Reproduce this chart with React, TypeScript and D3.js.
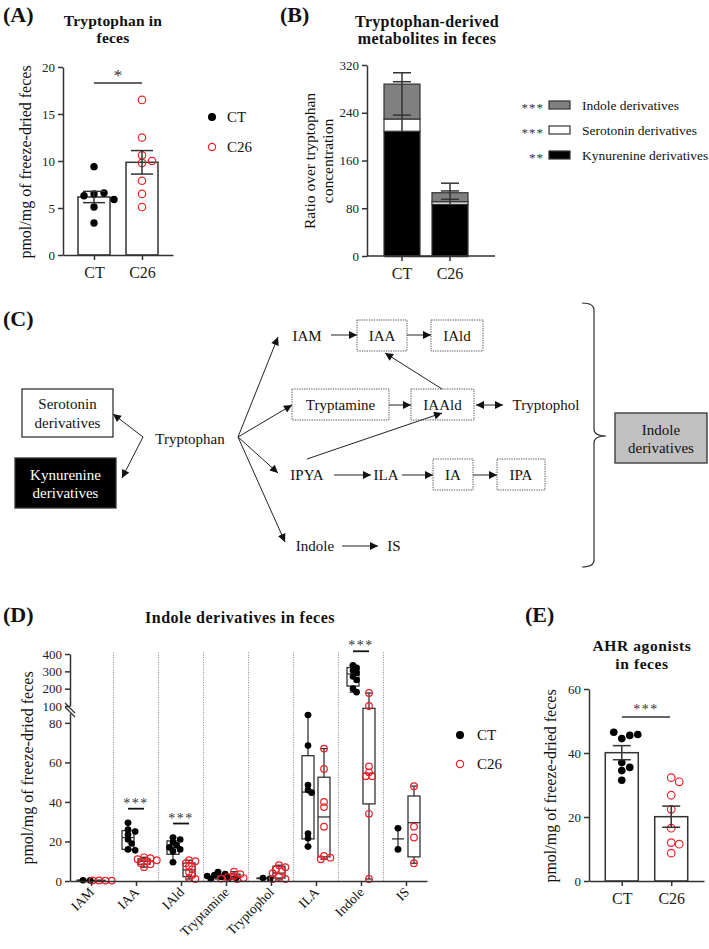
import React, { useEffect, useRef } from 'react';
import * as d3 from 'd3';

const FONT = 'Liberation Serif';
const RED = '#ee2028';
const AX = '#333';

// ---------- Panel A: Tryptophan in feces ----------
const groups = ['CT', 'C26'];
const trpCT = [9.4, 6.5, 6.6, 6.3, 5.9, 5.1, 3.4];
const trpC26 = [16.5, 12.5, 10.6, 10.0, 9.8, 7.9, 6.5, 5.1];
const trpMean = [6.17, 9.86];
const trpSem = [0.6, 1.25];
const aTicks = [0, 5, 10, 15, 20];

// ---------- Panel B: stacked metabolites ----------
const kynVals = [209, 86.5];
const seroVals = [20.5, 4.5];
const indVals = [58.5, 15];
const kynSem = [27, 8.5];
const seroSem = [4, 3];
const indSem = [19, 16];
const bTicks = [0, 80, 160, 240, 320];
const bLegend = ['Indole derivatives', 'Serotonin derivatives', 'Kynurenine derivatives'];
const bLegendStars = ['***', '***', '**'];
const bLegendFill = ['#808080', '#ffffff', '#000000'];

// ---------- Panel D: Indole derivatives (box plots) ----------
const dCats = ['IAM', 'IAA', 'IAld', 'Tryptamine', 'Tryptophol', 'ILA', 'Indole', 'IS'];
const dPtsCT = [
  [0.4, 0.3],
  [29.5, 26, 25, 23.5, 21, 19, 16, 15.5],
  [22, 21, 19.5, 18, 17, 16, 15, 9.5],
  [4.5, 3.5, 3, 2.5, 2, 1.5, 1.5, 1],
  [1.5, 1.2],
  [84, 68.5, 48.6, 46, 44.7, 24, 21.6, 17.4],
  [335, 320, 305, 290, 270, 250, 200, 180],
  [26.7, 16],
];
const dPtsC26 = [
  [0.3, 0.2, 0.3, 0.2],
  [12, 11.5, 11, 10.5, 10, 9, 8.5, 7],
  [10.5, 10, 9, 7.5, 6, 4.5, 3, 1.5, 1],
  [4.7, 3.5, 2.5, 2, 1.5, 1.2, 1],
  [8, 7, 6, 5, 4, 2, 1, 1],
  [67, 56.7, 40, 37.4, 27.5, 12.7, 11.8, 11],
  [175, 100, 58, 55, 53, 53, 34, 1],
  [48, 27.5, 22, 9],
];
// [min, q1, median, q3, max]
const dBoxCT = [
  [0.3, 0.3, 0.35, 0.4, 0.4],
  [15.5, 16, 22, 25.5, 29.5],
  [9.5, 13.5, 17, 20.3, 22],
  [1, 1.5, 2, 3, 4.5],
  [1.2, 1.2, 1.35, 1.5, 1.5],
  [17.4, 21.3, 45, 63.4, 84],
  [180, 215, 285, 322, 335],
  [16, 21.3, 21.3, 21.3, 26.7],
];
const dBoxC26 = [
  [0.2, 0.2, 0.25, 0.3, 0.3],
  [7, 8.5, 10, 11.2, 12],
  [1, 2.2, 5.6, 9.1, 10.5],
  [1, 1.3, 2.2, 3.5, 4.7],
  [1, 1.5, 4, 7.5, 8],
  [11, 12.2, 32.4, 52.5, 67],
  [1, 39, 54.5, 95, 175],
  [9, 12.2, 29.5, 43, 48],
];
const dSig = ['IAA', 'IAld', 'Indole'];
const dLowTicks = [0, 20, 40, 60, 80];
const dHighTicks = [100, 200, 300, 400];

// ---------- Panel E: AHR agonists ----------
const ahrCT = [44.5, 45.5, 46.5, 45.8, 37, 35.5, 34.5, 31.5];
const ahrC26 = [32.3, 31, 26.8, 22.4, 16.5, 12, 11.5, 8.7];
const ahrMean = [40.1, 20.1];
const ahrSem = [2.2, 3.3];
const eTicks = [0, 20, 40, 60];

// simple beeswarm layout
function swarm(vals: number[], y: (v: number) => number, cx: number, minDist: number, step: number) {
  const placed: { x: number; y: number }[] = [];
  return vals.map((v) => {
    const py = y(v);
    let k = 0;
    for (;;) {
      const off = k === 0 ? 0 : (k % 2 === 1 ? 1 : -1) * Math.ceil(k / 2);
      const px = cx + off * step;
      const hit = placed.some((p) => Math.hypot(p.x - px, p.y - py) < minDist);
      if (!hit || k > 12) {
        placed.push({ x: px, y: py });
        return { x: px, y: py };
      }
      k++;
    }
  });
}

function Axis({ axis, transform, fontSize = 13 }: any) {
  const ref = useRef<SVGGElement>(null);
  useEffect(() => {
    const g = d3.select(ref.current!);
    g.call(axis);
    g.attr('font-family', FONT).attr('font-size', fontSize);
    g.select('.domain').attr('stroke', AX).attr('stroke-width', 1.5);
    g.selectAll('.tick line').attr('stroke', AX).attr('stroke-width', 1.5);
    g.selectAll('.tick text').attr('fill', '#222');
  });
  return <g ref={ref} transform={transform} />;
}

function Dots({ pts, red, r }: any) {
  return (
    <g>
      {pts.map((p: any, i: number) =>
        red ? (
          <circle key={i} cx={p.x} cy={p.y} r={r} fill="none" stroke={RED} strokeWidth={1.2} />
        ) : (
          <circle key={i} cx={p.x} cy={p.y} r={r} fill="#000" />
        )
      )}
    </g>
  );
}

function ErrBar({ x, y1, y2, w }: any) {
  return (
    <g stroke={AX} strokeWidth={1.5}>
      <line x1={x} x2={x} y1={y1} y2={y2} />
      <line x1={x - w / 2} x2={x + w / 2} y1={y1} y2={y1} />
      <line x1={x - w / 2} x2={x + w / 2} y1={y2} y2={y2} />
    </g>
  );
}

function T({ x, y, size = 15, bold = false, anchor = 'start', fill = '#111', transform, spacing, children }: any) {
  return (
    <text x={x} y={y} transform={transform} textAnchor={anchor} fontFamily={FONT} fontSize={size}
      fontWeight={bold ? 'bold' : 'normal'} fill={fill} letterSpacing={spacing}>
      {children}
    </text>
  );
}

function PanelA() {
  const xA = d3.scalePoint<string>().domain(groups).range([63, 173]).padding(0.646);
  const yA = d3.scaleLinear().domain([0, 20]).range([255, 67]);
  const bw = 32;
  const ptsCT = swarm(trpCT, yA, xA('CT')!, 7.4, 10);
  const ptsC26 = swarm(trpC26, yA, xA('C26')!, 7.4, 10);
  return (
    <g>
      <T x={3} y={22} size={22} bold>(A)</T>
      <T x={113} y={26} anchor="middle" bold size={15.5} spacing={0.2}>Tryptophan in</T>
      <T x={113} y={43} anchor="middle" bold size={15.5} spacing={0.2}>feces</T>
      <T transform="translate(31,162) rotate(-90)" anchor="middle" size={16}>pmol/mg of freeze-dried feces</T>
      {groups.map((g, i) => (
        <rect key={g} x={xA(g)! - bw / 2} width={bw} y={yA(trpMean[i])} height={yA(0) - yA(trpMean[i])} fill="#fff" stroke={AX} strokeWidth={1.5} />
      ))}
      <Dots pts={ptsCT} r={3.7} />
      <Dots pts={ptsC26} r={3.7} red />
      {groups.map((g, i) => (
        <ErrBar key={g} x={xA(g)!} y1={yA(trpMean[i] + trpSem[i])} y2={yA(trpMean[i] - trpSem[i])} w={22} />
      ))}
      <Axis axis={d3.axisLeft(yA).tickValues(aTicks).tickSize(5).tickSizeOuter(0).tickPadding(3)} transform="translate(63,0)" />
      <Axis axis={d3.axisBottom(xA).tickSize(5).tickSizeOuter(0).tickPadding(7)} transform="translate(0,255)" fontSize={16} />
      <line x1={xA('CT')} x2={xA('C26')} y1={yA(18.3)} y2={yA(18.3)} stroke={AX} strokeWidth={1.3} />
      <T x={(xA('CT')! + xA('C26')!) / 2} y={yA(18.3) - 2} anchor="middle" size={17} fill="#333">*</T>
      <circle cx={212} cy={117} r={4} fill="#000" />
      <T x={227} y={122}>CT</T>
      <circle cx={212} cy={147} r={3.6} fill="none" stroke={RED} strokeWidth={1.2} />
      <T x={227} y={152}>C26</T>
    </g>
  );
}

function PanelB() {
  const xB = d3.scaleBand<string>().domain(groups).range([384, 468]).paddingInner(0.25);
  const yB = d3.scaleLinear().domain([0, 320]).range([256, 65]);
  const bw = xB.bandwidth();
  const stacks = groups.map((g, i) => {
    const k = kynVals[i];
    const s = k + seroVals[i];
    const t = s + indVals[i];
    return { g, k, s, t, i };
  });
  return (
    <g>
      <T x={280} y={22} size={22} bold>(B)</T>
      <T x={427} y={27} anchor="middle" bold size={16} spacing={0.3}>Tryptophan-derived</T>
      <T x={427} y={44} anchor="middle" bold size={16} spacing={0.3}>metabolites in feces</T>
      <T transform="translate(315,161) rotate(-90)" anchor="middle" size={15.5}>Ratio over tryptophan</T>
      <T transform="translate(333,161) rotate(-90)" anchor="middle" size={15.5}>concentration</T>
      {stacks.map(({ g, k, s, t, i }) => {
        const x = xB(g)!;
        const cx = x + bw / 2;
        const caps = [k + kynSem[i], t + seroSem[i], t + indSem[i]];
        return (
          <g key={g}>
            <rect x={x} width={bw} y={yB(k)} height={yB(0) - yB(k)} fill="#000" stroke={AX} strokeWidth={1.2} />
            <rect x={x} width={bw} y={yB(s)} height={yB(k) - yB(s)} fill="#fff" stroke={AX} strokeWidth={1.2} />
            <rect x={x} width={bw} y={yB(t)} height={yB(s) - yB(t)} fill="#808080" stroke={AX} strokeWidth={1.2} />
            <line x1={cx} x2={cx} y1={yB(k)} y2={yB(d3.max(caps)!)} stroke={AX} strokeWidth={1.5} />
            {caps.map((c, j) => (
              <line key={j} x1={cx - 9} x2={cx + 9} y1={yB(c)} y2={yB(c)} stroke={AX} strokeWidth={1.5} />
            ))}
          </g>
        );
      })}
      <Axis axis={d3.axisLeft(yB).tickValues(bTicks).tickSize(5).tickSizeOuter(0).tickPadding(3)} transform="translate(367,0)" />
      <Axis axis={d3.axisBottom(xB).tickSize(5).tickSizeOuter(0).tickPadding(7)} transform="translate(0,256)" fontSize={16} />
      <line x1={367} x2={495} y1={256} y2={256} stroke={AX} strokeWidth={1.5} />
      {bLegend.map((name, j) => (
        <g key={name} transform={`translate(0,${105 + j * 25})`}>
          <T x={544} y={7} anchor="end" size={13} fill="#333" spacing={1}>{bLegendStars[j]}</T>
          <rect x={549} y={-4} width={21} height={8} fill={bLegendFill[j]} stroke={AX} strokeWidth={1.2} />
          <T x={582} y={5} size={13.5}>{name}</T>
        </g>
      ))}
    </g>
  );
}

// Pathway diagram (panel C)
const dottedBoxes = ['IAA', 'IAld', 'Tryptamine', 'IAAld', 'IA', 'IPA'];
const plainLabels = ['Tryptophan', 'IAM', 'IPYA', 'ILA', 'Indole', 'IS', 'Tryptophol'];

function PanelC() {
  const boxGeom: Record<string, number[]> = {
    IAA: [357, 320, 50, 31],
    IAld: [431, 320, 52, 31],
    Tryptamine: [292, 389, 97, 31],
    IAAld: [411, 389, 63, 31],
    IA: [433, 459, 40, 31],
    IPA: [497, 459, 48, 31],
  };
  const labelPos: Record<string, number[]> = {
    Tryptophan: [190, 439],
    IAM: [307, 336],
    IPYA: [307, 475],
    ILA: [386, 475],
    Indole: [315, 546],
    IS: [394, 546],
    Tryptophol: [546, 405],
  };
  const arrows = [
    [143, 437, 113, 414],
    [143, 437, 122, 478],
    [238, 437, 278, 337],
    [238, 437, 292, 405],
    [238, 437, 278, 473],
    [238, 437, 285, 542],
    [331, 335, 357, 335],
    [407, 335, 431, 335],
    [389, 405, 411, 405],
    [442, 389, 385, 353],
    [307, 459, 442, 413],
    [334, 475, 371, 475],
    [402, 475, 433, 475],
    [473, 475, 497, 475],
    [342, 546, 378, 546],
  ];
  return (
    <g>
      <defs>
        <marker id="ah" viewBox="0 0 10 10" refX={10} refY={5} markerWidth={9} markerHeight={8} markerUnits="userSpaceOnUse" orient="auto-start-reverse">
          <path d="M0,0 L10,5 L0,10 z" fill="#111" />
        </marker>
      </defs>
      <T x={3} y={326} size={22} bold>(C)</T>
      <rect x={22} y={389} width={91} height={48} fill="#fff" stroke={AX} strokeWidth={1.3} />
      <T x={67.5} y={409} anchor="middle">Serotonin</T>
      <T x={67.5} y={428} anchor="middle">derivatives</T>
      <rect x={15} y={458} width={101} height={50} fill="#000" stroke={AX} strokeWidth={1.3} />
      <T x={65.5} y={480} anchor="middle" fill="#fff">Kynurenine</T>
      <T x={65.5} y={498} anchor="middle" fill="#fff">derivatives</T>
      {dottedBoxes.map((b) => {
        const [x, y, w, h] = boxGeom[b];
        return (
          <g key={b}>
            <rect x={x} y={y} width={w} height={h} fill="none" stroke="#555" strokeWidth={1} strokeDasharray="1.3,1.1" />
            <T x={x + w / 2} y={y + h / 2 + 5} anchor="middle">{b}</T>
          </g>
        );
      })}
      {plainLabels.map((l) => (
        <T key={l} x={labelPos[l][0]} y={labelPos[l][1] + 5} anchor="middle">{l}</T>
      ))}
      {arrows.map((a, i) => (
        <line key={i} x1={a[0]} y1={a[1]} x2={a[2]} y2={a[3]} stroke="#222" strokeWidth={1} markerEnd="url(#ah)" />
      ))}
      <line x1={476} y1={405} x2={503} y2={405} stroke="#222" strokeWidth={1} markerEnd="url(#ah)" markerStart="url(#ah)" />
      <path d="M582,303 Q594,303 594,310 L594,429 Q594,436 606,436 Q594,436 594,443 L594,560 Q594,567 582,567" fill="none" stroke="#333" strokeWidth={1.2} />
      <rect x={615} y={413} width={92} height={50} fill="#c0c0c0" stroke={AX} strokeWidth={1.3} />
      <T x={661} y={435} anchor="middle">Indole</T>
      <T x={661} y={453} anchor="middle">derivatives</T>
    </g>
  );
}

function PanelD() {
  const xD = d3.scalePoint<string>().domain(dCats).range([70, 427]).padding(0.467);
  const yD = d3.scaleLinear().domain([0, 85, 100, 400]).range([881, 713, 706, 654]);
  const yLow = d3.scaleLinear().domain([0, 85]).range([881, 713]);
  const yHigh = d3.scaleLinear().domain([100, 400]).range([706, 654]);
  const step = xD.step();
  const off = 8;
  const bw = 12;
  const r = 3.3;
  const drawBox = (b: number[], cx: number, key: string) => {
    const [mn, q1, md, q3, mx] = b;
    return (
      <g key={key} stroke={AX} strokeWidth={1.3} fill="none">
        <line x1={cx} x2={cx} y1={yD(mx)} y2={yD(q3)} />
        <line x1={cx} x2={cx} y1={yD(q1)} y2={yD(mn)} />
        <line x1={cx - 3.5} x2={cx + 3.5} y1={yD(mx)} y2={yD(mx)} />
        <line x1={cx - 3.5} x2={cx + 3.5} y1={yD(mn)} y2={yD(mn)} />
        <rect x={cx - bw / 2} width={bw} y={yD(q3)} height={Math.max(0, yD(q1) - yD(q3))} />
        <line x1={cx - bw / 2} x2={cx + bw / 2} y1={yD(md)} y2={yD(md)} />
      </g>
    );
  };
  return (
    <g>
      <T x={3} y={622} size={22} bold>(D)</T>
      <T x={240} y={623} anchor="middle" bold size={16} spacing={0.5}>Indole derivatives in feces</T>
      <T transform="translate(33,768) rotate(-90)" anchor="middle" size={16}>pmol/mg of freeze-dried feces</T>
      {dCats.slice(0, -1).map((c) => (
        <line key={c} x1={xD(c)! + step / 2} x2={xD(c)! + step / 2} y1={652} y2={881} stroke="#999" strokeWidth={1} strokeDasharray="1.2,1.3" />
      ))}
      {dCats.map((c, i) => {
        const cxa = xD(c)! - off;
        const cxb = xD(c)! + off;
        return (
          <g key={c}>
            {drawBox(dBoxCT[i], cxa, 'a')}
            {drawBox(dBoxC26[i], cxb, 'b')}
            <Dots pts={swarm(dPtsCT[i], yD, cxa, 4.2, 3.6)} r={r} />
            <Dots pts={swarm(dPtsC26[i], yD, cxb, 4.2, 3.2)} r={r} red />
          </g>
        );
      })}
      {dSig.map((c) => {
        const i = dCats.indexOf(c);
        const ly = yD(dBoxCT[i][4]) - 14;
        return (
          <g key={c}>
            <line x1={xD(c)! - 8} x2={xD(c)! + 8} y1={ly} y2={ly} stroke="#111" strokeWidth={1.8} />
            <T x={xD(c)!} y={ly - 1} anchor="middle" size={14} fill="#333" spacing={1.5}>***</T>
          </g>
        );
      })}
      <Axis axis={d3.axisLeft(yLow).tickValues(dLowTicks).tickSize(5).tickSizeOuter(0).tickPadding(3)} transform="translate(70,0)" fontSize={13} />
      <Axis axis={d3.axisLeft(yHigh).tickValues(dHighTicks).tickSize(5).tickSizeOuter(0).tickPadding(3)} transform="translate(70,0)" fontSize={13} />
      <line x1={65} y1={703} x2={75} y2={713} stroke={AX} strokeWidth={1.3} />
      <line x1={65} y1={707} x2={75} y2={717} stroke={AX} strokeWidth={1.3} />
      <Axis axis={d3.axisBottom(xD).tickSize(5).tickSizeOuter(0).tickFormat(() => '')} transform="translate(0,881)" />
      {dCats.map((c) => (
        <T key={c} transform={`translate(${xD(c)! + 4},${893}) rotate(-45)`} anchor="end" size={13.5}>{c}</T>
      ))}
      <circle cx={460} cy={735} r={4} fill="#000" />
      <T x={477} y={740}>CT</T>
      <circle cx={460} cy={764} r={3.6} fill="none" stroke={RED} strokeWidth={1.2} />
      <T x={477} y={769}>C26</T>
    </g>
  );
}

function PanelE() {
  const xE = d3.scalePoint<string>().domain(groups).range([589, 704]).padding(0.663);
  const yE = d3.scaleLinear().domain([0, 60]).range([881, 689]);
  const bw = 33;
  const ptsCT = swarm(ahrCT, yE, xE('CT')!, 7.6, 8);
  const ptsC26 = swarm(ahrC26, yE, xE('C26')!, 7.6, 8);
  return (
    <g>
      <T x={525} y={622} size={22} bold>(E)</T>
      <T x={642} y={651} anchor="middle" bold size={15.5} spacing={0.6}>AHR agonists</T>
      <T x={642} y={669} anchor="middle" bold size={15.5} spacing={0.6}>in feces</T>
      <T transform="translate(556,786) rotate(-90)" anchor="middle" size={16}>pmol/mg of freeze-dried feces</T>
      {groups.map((g, i) => (
        <rect key={g} x={xE(g)! - bw / 2} width={bw} y={yE(ahrMean[i])} height={yE(0) - yE(ahrMean[i])} fill="#fff" stroke={AX} strokeWidth={1.5} />
      ))}
      <Dots pts={ptsCT} r={3.8} />
      <Dots pts={ptsC26} r={3.8} red />
      {groups.map((g, i) => (
        <ErrBar key={g} x={xE(g)!} y1={yE(ahrMean[i] + ahrSem[i])} y2={yE(ahrMean[i] - ahrSem[i])} w={18} />
      ))}
      <Axis axis={d3.axisLeft(yE).tickValues(eTicks).tickSize(5).tickSizeOuter(0).tickPadding(3)} transform="translate(589,0)" />
      <Axis axis={d3.axisBottom(xE).tickSize(5).tickSizeOuter(0).tickPadding(7)} transform="translate(0,881)" fontSize={16} />
      <line x1={622} x2={670} y1={717} y2={717} stroke={AX} strokeWidth={1.3} />
      <T x={646} y={714} anchor="middle" size={14} fill="#333" spacing={1.5}>***</T>
    </g>
  );
}

export default function App() {
  return (
    <svg width={709} height={949} viewBox="0 0 709 949" style={{ position: 'absolute', left: 0, top: 0, background: '#fff' }}>
      <rect width={709} height={949} fill="#fff" />
      <PanelA />
      <PanelB />
      <PanelC />
      <PanelD />
      <PanelE />
    </svg>
  );
}
